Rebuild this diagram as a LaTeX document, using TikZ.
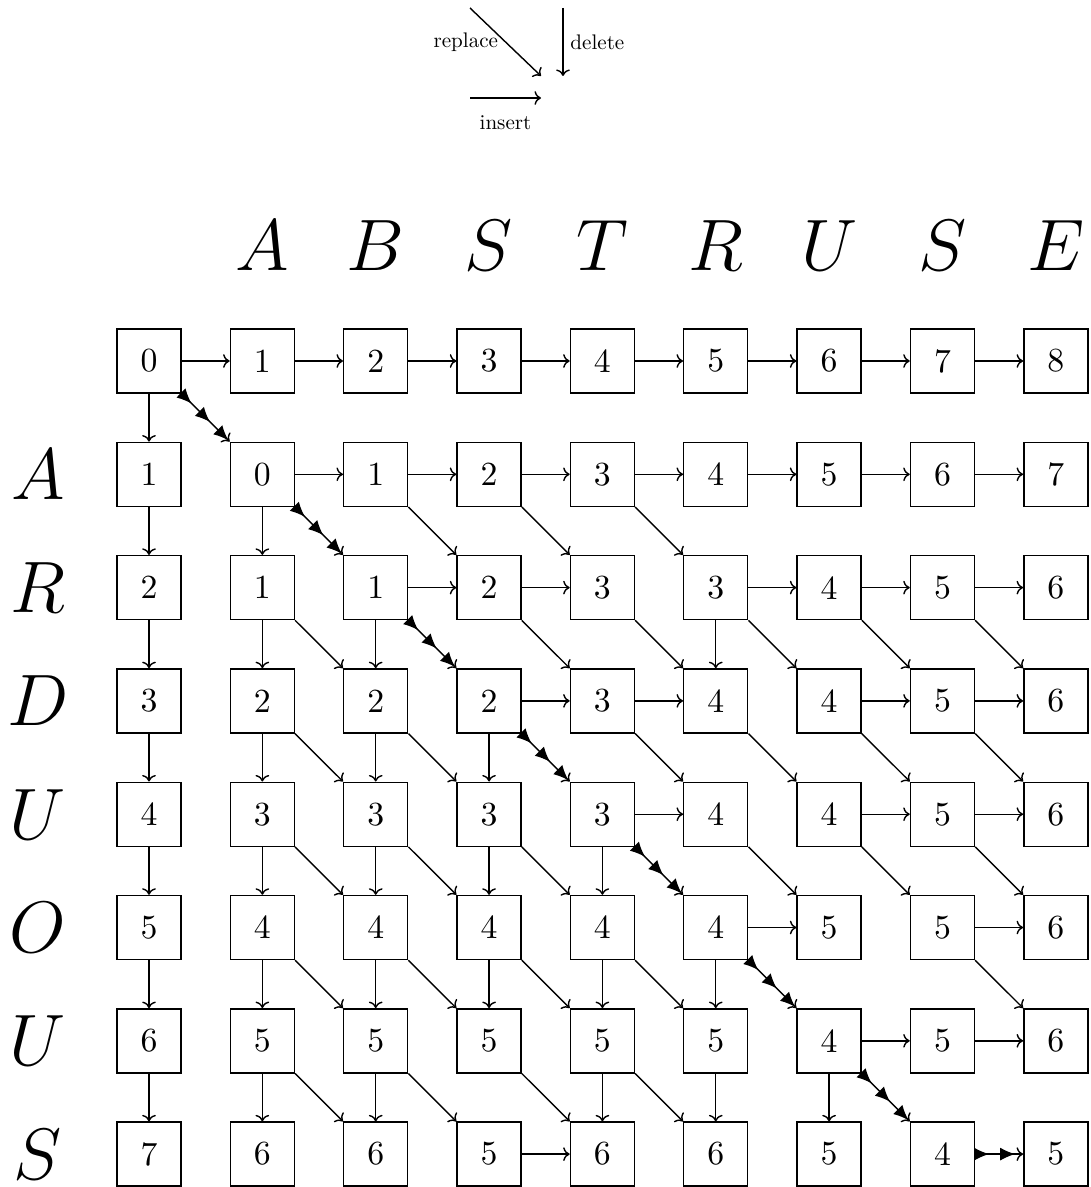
\documentclass[tikz,border=0pt]{standalone}
\usetikzlibrary{arrows.meta,decorations.markings}

\begin{document}
\begin{tikzpicture}
\tikzset{
    cell/.style={draw, minimum size=0.64cm, inner sep=0pt, font=\fontsize{9.6}{11}\selectfont},
    letter/.style={inner sep=0pt, font=\fontsize{20}{24}\selectfont},
    legend/.style={font=\fontsize{10}{12}\selectfont, scale=0.6},
    edge/.style={-{To[scale=0.75]}},
    best/.style={edge, postaction={decorate},
        decoration={markings, mark=between positions 0.14cm and 1 step 0.26cm with {\arrow{Latex[length=0.15cm,width=0.13cm]}}}}
}
\useasboundingbox (0,0) rectangle (10.90,-11.87);

% legend
\coordinate (rep-a) at (4.70,-0.08);
\coordinate (rep-b) at (5.41,-0.76);
\coordinate (del-a) at (5.63,-0.08);
\coordinate (del-b) at (5.63,-0.76);
\coordinate (ins-a) at (4.70,-0.98);
\coordinate (ins-b) at (5.41,-0.98);
\draw[edge] (rep-a) -- node[midway, left, legend] (rep-t) {replace} (rep-b);
\draw[edge] (del-a) -- node[midway, right, legend] (del-t) {delete} (del-b);
\draw[edge] (ins-a) -- node[midway, below=0.1cm, legend] (ins-t) {insert} (ins-b);

% strings
\foreach \c [count=\j] in {A,B,S,T,R,U,S,E}
    \node[letter] (top-\j) at ({1.49+1.1335*\j},-2.455) {$\c$};
\foreach \c [count=\i] in {A,R,D,U,O,U,S}
    \node[letter] (side-\i) at (0.38,{-3.61-1.133*\i}) {$\c$};

% table
\foreach \row [count=\i from 0] in {
    {0,1,2,3,4,5,6,7,8},
    {1,0,1,2,3,4,5,6,7},
    {2,1,1,2,3,3,4,5,6},
    {3,2,2,2,3,4,4,5,6},
    {4,3,3,3,3,4,4,5,6},
    {5,4,4,4,4,4,5,5,6},
    {6,5,5,5,5,5,4,5,6},
    {7,6,6,5,6,6,5,4,5}}
    \foreach \v [count=\j from 0] in \row
        \node[cell] (n-\i-\j) at ({1.49+1.1335*\j},{-3.61-1.133*\i}) {\v};

% first row and column
\foreach \j [evaluate=\j as \k using int(\j-1)] in {1,...,8}
    \draw[edge] (n-0-\k) -- (n-0-\j);
\foreach \i [evaluate=\i as \p using int(\i-1)] in {1,...,7}
    \draw[edge] (n-\p-0) -- (n-\i-0);

% insert
\foreach \i/\j [evaluate=\j as \k using int(\j-1)] in {1/2,1/3,1/4,1/5,1/6,1/7,1/8,
        2/3,2/4,2/6,2/7,2/8, 3/4,3/5,3/7,3/8, 4/5,4/7,4/8, 5/6,5/8, 6/7,6/8, 7/4}
    \draw[edge] (n-\i-\k) -- (n-\i-\j);
% delete
\foreach \i/\j [evaluate=\i as \p using int(\i-1)] in {2/1, 3/1,3/2,3/5, 4/1,4/2,4/3,
        5/1,5/2,5/3,5/4, 6/1,6/2,6/3,6/4,6/5, 7/1,7/2,7/4,7/5,7/6}
    \draw[edge] (n-\p-\j) -- (n-\i-\j);
% replace
\foreach \i/\j [evaluate=\i as \p using int(\i-1), evaluate=\j as \k using int(\j-1)] in {
        2/3,2/4,2/5, 3/2,3/4,3/5,3/6,3/7,3/8, 4/2,4/3,4/5,4/6,4/7,4/8,
        5/2,5/3,5/4,5/6,5/7,5/8, 6/2,6/3,6/4,6/5,6/8, 7/2,7/3,7/4,7/5}
    \draw[edge] (n-\p-\k.south east) -- (n-\i-\j.north west);

% best path
\foreach \i [evaluate=\i as \p using int(\i-1)] in {1,...,7}
    \draw[best] (n-\p-\p.south east) -- (n-\i-\i.north west);
\draw[best] (n-7-7) -- (n-7-8);
\end{tikzpicture}
\end{document}
